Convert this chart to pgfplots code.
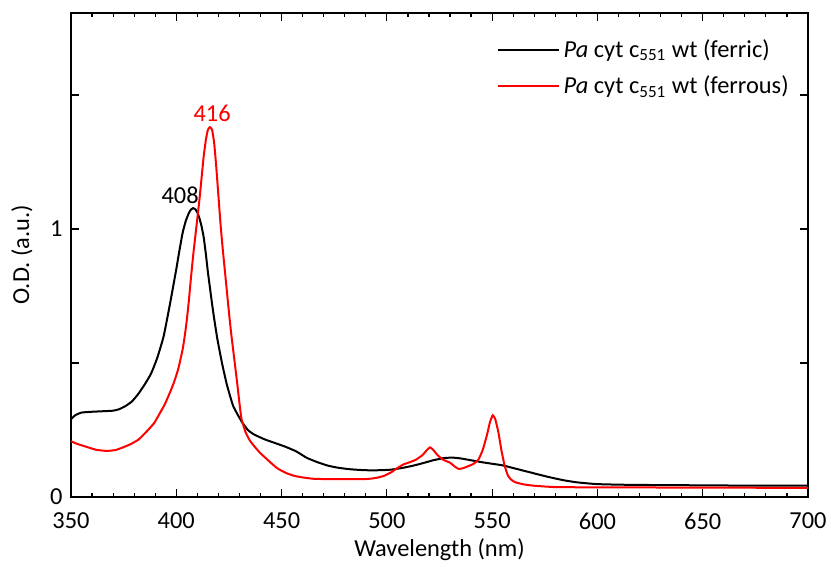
\documentclass[border=0pt]{standalone}
\usepackage{fontspec}
\setmainfont{Carlito}
\usepackage{pgfplots}
\pgfplotsset{compat=1.18}
\begin{document}
\fontsize{12.2}{14}\selectfont
\begin{tikzpicture}
\useasboundingbox (0,0) rectangle (415.5pt,283.5pt);
\begin{axis}[
  at={(35.5pt,35pt)}, anchor=south west,
  scale only axis, width=368.5pt, height=242pt,
  xmin=350, xmax=700, ymin=0, ymax=1.806,
  xtick={350,400,...,700}, minor x tick num=4,
  ytick={0,0.5,1,1.5}, yticklabels={0,,1,},
  tick align=inside, tick pos=both,
  major tick length=4pt, minor tick length=2pt,
  axis line style={line width=0.75pt},
  every tick/.style={black, line width=0.6pt},
  /pgf/number format/assume math mode=true,
  /pgf/number format/1000 sep={},
  xticklabel style={yshift=-3.5pt},
  every axis x label/.style={at={(axis description cs:0.5,0)}, yshift=-26.5pt, anchor=center},
  every axis y label/.style={at={(axis description cs:0,0.5)}, xshift=-24.5pt, rotate=90, anchor=center},
  xlabel={Wavelength (nm)}, ylabel={O.D. (a.u.)},
  legend style={draw=none, fill=none, at={(0.577,0.955)}, anchor=north west,
    row sep=3.5pt, inner sep=0pt, nodes={inner sep=2pt}},
  legend cell align=left,
  legend image code/.code={\draw[#1] (0pt,0pt) -- (30.5pt,0pt);},
]
\addplot[black, line width=1pt, smooth, tension=0.3] coordinates {
(350,0.290) (352,0.305) (355,0.315) (360,0.318) (365,0.320) (370,0.322) (373,0.328)
(376,0.340) (379,0.357) (382,0.385) (385,0.42) (388,0.46) (391,0.52) (394,0.60)
(397,0.72) (400,0.85) (401.5,0.92) (403,0.985) (404.5,1.03) (406,1.06) (407,1.073)
(408,1.078) (409,1.074) (410,1.062) (411,1.04) (412,1.01) (413,0.97) (414,0.91)
(415,0.84) (416,0.78) (417,0.72) (418,0.665) (419.5,0.59) (421.7,0.50) (424,0.42) (427,0.34) (431,0.282)
(434,0.25) (437,0.233) (442,0.215) (447,0.201) (452,0.187) (457,0.17) (462,0.146)
(467,0.13) (472,0.117) (477,0.109) (482,0.104) (487,0.101) (492,0.0995) (497,0.100)
(502,0.102) (507,0.108) (512,0.116) (517,0.126) (522,0.137) (527,0.145) (531,0.147)
(535,0.144) (540,0.137) (545,0.130) (550,0.124) (555,0.118) (560,0.108) (565,0.098)
(570,0.088) (575,0.078) (580,0.069) (585,0.061) (590,0.055) (595,0.051) (600,0.048)
(610,0.046) (620,0.045) (640,0.044) (660,0.043) (680,0.042) (700,0.042)
};
\addlegendentry{\textit{Pa} cyt c\textsubscript{551} wt (ferric)}
\addplot[red, line width=1pt, smooth, tension=0.3] coordinates {
(350,0.208) (353,0.198) (357,0.188) (362,0.176) (367,0.172) (371,0.175) (374,0.183)
(378,0.196) (382,0.214) (386,0.245) (389.5,0.276) (392,0.31) (394.5,0.345) (397,0.39)
(399,0.43) (401,0.48) (403,0.55) (404,0.60) (405,0.66) (406,0.735) (407,0.82) (408,0.90)
(409,0.97) (410,1.04) (411,1.11) (412,1.19) (413,1.27) (414,1.33) (415,1.37) (416,1.38)
(417,1.37) (418,1.32) (419,1.23) (420,1.125) (421,1.02) (422,0.93) (423,0.85)
(424,0.77) (425,0.69) (426,0.615) (427,0.55) (428,0.485) (429,0.42) (430,0.35) (431,0.29)
(433,0.24) (435,0.21) (437.5,0.185) (440,0.163)
(442.5,0.145) (445,0.127) (448,0.107) (452,0.09) (456,0.079) (460,0.073) (465,0.068)
(470,0.067) (480,0.067) (490,0.067) (493,0.069) (496,0.073) (499,0.08) (502,0.092)
(505,0.108) (508,0.122) (511,0.13) (514,0.14) (517,0.157) (519,0.175) (520.5,0.185)
(522,0.176) (524,0.157) (526.5,0.14) (530,0.128) (532,0.115) (534,0.105) (536,0.107)
(538,0.113) (541,0.123) (543.5,0.14) (545.5,0.175) (547.5,0.23) (549,0.28) (550.3,0.305)
(551.5,0.29) (553,0.24) (554.5,0.17) (556,0.115) (557.5,0.08) (559,0.065) (561,0.055)
(565,0.047) (570,0.042) (580,0.037) (600,0.036) (650,0.035) (700,0.034)
};
\addlegendentry{\textit{Pa} cyt c\textsubscript{551} wt (ferrous)}
\node[black] at (axis cs:401.8,1.127) {408};
\node[red] at (axis cs:417,1.433) {416};
\end{axis}
\end{tikzpicture}
\end{document}
